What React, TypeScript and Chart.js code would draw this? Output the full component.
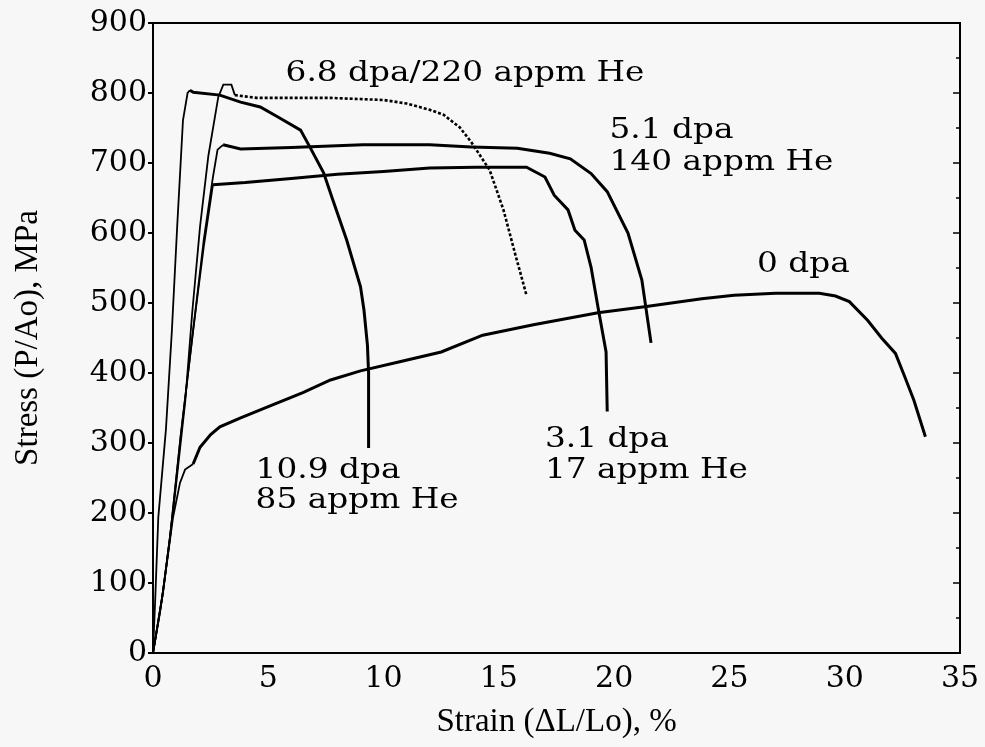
import React, { useEffect, useRef } from "react";
import { Chart, registerables } from "chart.js";

Chart.register(...registerables);

// ---- axis ranges / ticks ----
const strainMin = 0;
const strainMax = 35;
const strainStep = 5;
const stressMin = 0;
const stressMax = 900;
const stressStep = 100;

// ---- series: [strain %, stress MPa] ----
const dpa0: [number, number][] = [
  [0, 0], [0.3, 57], [0.6, 128], [0.87, 194], [1.17, 243], [1.39, 262], [1.74, 270],
  [2.04, 294], [2.5, 312], [2.9, 323], [3.8, 336], [5, 352], [6.5, 372], [7.7, 390],
  [9, 403], [10.7, 416], [12.5, 430], [14.3, 454], [16.5, 469], [19.3, 486], [21.4, 495],
  [23.8, 506], [25.2, 511], [27, 514], [28.9, 514], [29.6, 510], [30.2, 502], [31, 475],
  [31.6, 450], [32.2, 428], [32.6, 395], [33.0, 361], [33.5, 309],
];

const dpa10_9: [number, number][] = [
  [0, 0], [0.1, 80], [0.23, 194], [0.56, 319], [0.82, 461], [1.05, 610], [1.3, 761],
  [1.5, 800], [1.6, 804], [1.75, 801], [2.9, 797], [3.8, 787], [4.65, 780], [5.4, 766],
  [6.4, 747], [6.8, 723], [7.4, 686], [7.8, 647], [8.4, 590], [9.0, 523], [9.15, 490],
  [9.3, 440], [9.35, 400], [9.35, 293],
];

const dpa3_1: [number, number][] = [
  [0, 0], [0.4, 80], [0.74, 166], [1.2, 310], [1.74, 461], [2.2, 580], [2.6, 669],
  [4, 672], [6, 678], [8, 684], [10, 688], [12, 693], [14, 694], [16.2, 694], [17.0, 680],
  [17.4, 654], [18.0, 633], [18.3, 604], [18.7, 590], [19.0, 551], [19.3, 494],
  [19.65, 430], [19.7, 345],
];

const dpa5_1: [number, number][] = [
  [0, 0], [0.4, 80], [0.74, 166], [1.2, 310], [1.74, 461], [2.2, 590], [2.6, 680],
  [2.8, 719], [3.04, 726], [3.8, 720], [6, 722], [9.1, 726], [12, 726], [13.8, 723],
  [15.8, 721], [17.2, 714], [18.1, 706], [19.0, 685], [19.7, 659], [20.6, 600],
  [21.2, 533], [21.6, 443],
];

const dpa6_8: [number, number][] = [
  [0, 0], [0.45, 90], [0.9, 210], [1.4, 360], [1.7, 486], [2.04, 609], [2.4, 710],
  [2.83, 794], [3.05, 812], [3.4, 812], [3.55, 797], [4.5, 793], [7.7, 793], [10, 790],
  [11, 785], [12, 776], [12.6, 769], [13.3, 751], [13.8, 730], [14.6, 690], [15.2, 633],
  [15.7, 571], [16.2, 511],
];

// index of last point of the thin (elastic) portion of each curve
const elasticEnd0 = 6;
const elasticEnd10_9 = 8;
const elasticEnd3_1 = 6;
const elasticEnd5_1 = 8;
const elasticEnd6_8 = 10;

// ---- text ----
const xTitle = "Strain (\u0394L/Lo), %";
const yTitle = "Stress (P/Ao), MPa";
const noteTexts = [
  "6.8 dpa/220 appm He",
  "5.1 dpa",
  "140 appm He",
  "0 dpa",
  "10.9 dpa",
  "85 appm He",
  "3.1 dpa",
  "17 appm He",
];
// anchors (left / baseline) in data units
const noteStrain = [5.75, 19.8, 19.8, 26.2, 4.45, 4.45, 17.0, 17.0];
const noteStress = [817, 736, 690, 544, 250, 207, 294, 250];

const toPts = (arr: [number, number][]) => arr.map(([x, y]) => ({ x, y }));

const BG = "#f7f7f7";
const INK = "#000000";
const TICK_FONT = "DejaVu Serif";
const TITLE_FONT = "Liberation Serif";
const NOTE_STRETCH = 1.17;

const framePlugin = {
  id: "frameAndNotes",
  beforeDraw(chart: any) {
    const { ctx, width, height } = chart;
    ctx.save();
    ctx.fillStyle = BG;
    ctx.fillRect(0, 0, width, height);
    ctx.restore();
  },
  afterDatasetsDraw(chart: any) {
    const { ctx, chartArea: a, scales } = chart;
    const ys = scales.y;
    const xs = scales.x;
    ctx.save();
    ctx.strokeStyle = INK;
    ctx.lineWidth = 2;
    ctx.strokeRect(a.left, a.top, a.right - a.left, a.bottom - a.top);
    ctx.lineWidth = 1.5;
    for (let v = stressMin; v <= stressMax; v += stressStep / 2) {
      const py = ys.getPixelForValue(v);
      const len = v % stressStep === 0 ? 7 : 4;
      ctx.beginPath();
      ctx.moveTo(a.right, py);
      ctx.lineTo(a.right - len, py);
      ctx.stroke();
    }
    ctx.fillStyle = INK;
    ctx.font = `28px "${TICK_FONT}"`;
    ctx.textAlign = "left";
    ctx.textBaseline = "alphabetic";
    noteTexts.forEach((t, i) => {
      const px = xs.getPixelForValue(noteStrain[i]);
      const py = ys.getPixelForValue(noteStress[i]);
      ctx.save();
      ctx.translate(px, py);
      ctx.scale(NOTE_STRETCH, 1);
      ctx.fillText(t, 0, 0);
      ctx.restore();
    });
    ctx.restore();
  },
};

function curve(label: string, pts: [number, number][], elasticEnd: number, dotted = false) {
  return {
    label,
    data: toPts(pts),
    borderColor: INK,
    backgroundColor: INK,
    borderWidth: 3,
    pointRadius: 0,
    pointHoverRadius: 0,
    tension: 0,
    fill: false,
    showLine: true,
    segment: {
      borderWidth: (c: any) => (c.p1DataIndex <= elasticEnd ? 1.8 : dotted ? 2.6 : 3),
      borderDash: (c: any) => (dotted && c.p0DataIndex >= elasticEnd ? [3, 2] : undefined),
    },
  };
}

export default function App() {
  const ref = useRef<HTMLCanvasElement | null>(null);
  useEffect(() => {
    if (!ref.current) return;
    const chart = new Chart(ref.current, {
      type: "line",
      data: {
        datasets: [
          curve("0 dpa", dpa0, elasticEnd0),
          curve("10.9 dpa / 85 appm He", dpa10_9, elasticEnd10_9),
          curve("3.1 dpa / 17 appm He", dpa3_1, elasticEnd3_1),
          curve("5.1 dpa / 140 appm He", dpa5_1, elasticEnd5_1),
          curve("6.8 dpa / 220 appm He", dpa6_8, elasticEnd6_8, true),
        ] as any,
      },
      options: {
        animation: false,
        responsive: false,
        maintainAspectRatio: false,
        layout: { padding: { top: 23, right: 25, left: 0, bottom: 0 } },
        plugins: { legend: { display: false }, tooltip: { enabled: false } },
        scales: {
          x: {
            type: "linear",
            min: strainMin,
            max: strainMax,
            ticks: { stepSize: strainStep, color: INK, font: { family: TICK_FONT, size: 30 }, padding: 0, maxRotation: 0 },
            grid: { display: false },
            border: { display: false },
            title: {
              display: true,
              text: xTitle,
              color: INK,
              font: { family: TITLE_FONT, size: 33, lineHeight: 1.2 },
              padding: { top: 0, bottom: 5 },
            },
            afterFit: (s: any) => {
              s.height = 94;
            },
          },
          y: {
            type: "linear",
            min: stressMin,
            max: stressMax,
            ticks: { stepSize: stressStep, color: INK, font: { family: TICK_FONT, size: 30 }, padding: 1 },
            grid: { display: true, drawOnChartArea: false, drawTicks: true, tickLength: 5, color: INK, lineWidth: 2 },
            border: { display: false },
            title: {
              display: true,
              text: yTitle,
              color: INK,
              font: { family: TITLE_FONT, size: 33, lineHeight: 1.2 },
              padding: { top: 9, bottom: 0 },
            },
            afterFit: (s: any) => {
              s.width = 153;
            },
          },
        },
      } as any,
      plugins: [framePlugin],
    });
    return () => chart.destroy();
  }, []);
  return (
    <div style={{ position: "fixed", left: 0, top: 0, width: 985, height: 747, background: BG }}>
      <canvas ref={ref} width={985} height={747} style={{ display: "block" }} />
    </div>
  );
}
